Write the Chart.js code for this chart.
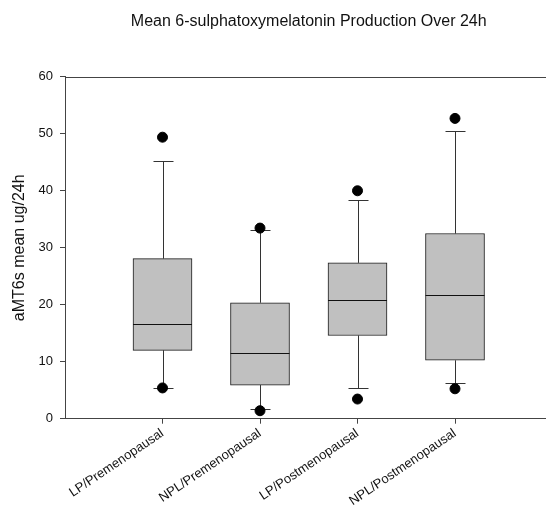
<!DOCTYPE html>
<html>
<head>
<meta charset="utf-8">
<script src="https://cdn.jsdelivr.net/npm/chart.js@4"></script>
<style>
  html, body { margin: 0; padding: 0; background: #fff; overflow: hidden; }
  canvas { display: block; }
</style>
</head>
<body>
<canvas id="boxChart" width="560" height="508"></canvas>
<script>
// group names and five-number summaries per group
const categories = ['LP/Premenopausal', 'NPL/Premenopausal', 'LP/Postmenopausal', 'NPL/Postmenopausal'];
const lowerWhisker = [5.4, 1.7, 5.3, 6.2];
const q1 = [12.0, 5.9, 14.6, 10.25];
const median = [16.7, 11.6, 20.8, 21.65];
const q3 = [28.1, 20.35, 27.35, 32.5];
const upperWhisker = [45.2, 33.05, 38.4, 50.45];
// outlying points (above, below)
const outliersHigh = [49.4, 33.45, 40.0, 52.7];
const outliersLow = [5.4, 1.4, 3.45, 5.25];
const yTicks = [0, 10, 20, 30, 40, 50, 60];

const positions = categories.map((c, i) => i + 1);
const font = "'Liberation Sans', Arial, sans-serif";

// whiskers, caps, medians and the top frame line
const boxExtras = {
    id: 'boxExtras',
    beforeDatasetsDraw(chart) {
        const { ctx, chartArea, scales: { x, y } } = chart;
        ctx.save();
        ctx.strokeStyle = '#444';
        ctx.lineWidth = 1;
        ctx.beginPath();
        ctx.moveTo(chartArea.left, Math.round(chartArea.top) + 0.5);
        ctx.lineTo(chartArea.right, Math.round(chartArea.top) + 0.5);
        ctx.stroke();

        ctx.strokeStyle = '#333';
        positions.forEach((p, i) => {
            const px = Math.round(x.getPixelForValue(p)) + 0.5;
            const yLo = Math.round(y.getPixelForValue(lowerWhisker[i])) + 0.5;
            const yHi = Math.round(y.getPixelForValue(upperWhisker[i])) + 0.5;
            ctx.beginPath();
            ctx.moveTo(px, y.getPixelForValue(q3[i]));
            ctx.lineTo(px, yHi);
            ctx.moveTo(px - 10, yHi);
            ctx.lineTo(px + 10, yHi);
            ctx.moveTo(px, y.getPixelForValue(q1[i]));
            ctx.lineTo(px, yLo);
            ctx.moveTo(px - 10, yLo);
            ctx.lineTo(px + 10, yLo);
            ctx.stroke();
        });
        ctx.restore();
    },
    afterDatasetsDraw(chart) {
        const { ctx, scales: { y } } = chart;
        const meta = chart.getDatasetMeta(0);
        ctx.save();
        ctx.strokeStyle = '#111';
        ctx.lineWidth = 1;
        meta.data.forEach((bar, i) => {
            const half = bar.width / 2;
            const my = Math.round(y.getPixelForValue(median[i])) + 0.5;
            ctx.beginPath();
            ctx.moveTo(bar.x - half, my);
            ctx.lineTo(bar.x + half, my);
            ctx.stroke();
        });
        ctx.restore();
    }
};

const ctx = document.getElementById('boxChart').getContext('2d');
const boxChart = new Chart(ctx, {
    type: 'bar',
    data: {
        datasets: [{
            label: 'IQR',
            data: positions.map((p, i) => ({ x: p, y: [q1[i], q3[i]] })),
            backgroundColor: '#c0c0c0',
            borderColor: '#1a1a1a',
            borderWidth: 1,
            borderSkipped: false,
            barThickness: 59,
            order: 2
        }, {
            type: 'scatter',
            label: 'Outliers',
            data: positions.flatMap((p, i) => [{ x: p, y: outliersHigh[i] }, { x: p, y: outliersLow[i] }]),
            backgroundColor: '#000',
            borderColor: '#000',
            pointRadius: 5,
            pointHoverRadius: 5,
            order: 1
        }]
    },
    options: {
        responsive: false,
        animation: false,
        events: [],
        layout: { padding: { left: 0, right: 7.5, top: 0, bottom: 0 } },
        plugins: {
            legend: { display: false },
            tooltip: { enabled: false },
            title: {
                display: true,
                fullSize: false,
                text: 'Mean 6-sulphatoxymelatonin Production Over 24h',
                color: '#111',
                font: { family: font, size: 16, weight: 'normal' },
                padding: { top: 12.4, bottom: 45.2 }
            }
        },
        scales: {
            x: {
                type: 'linear',
                min: 0,
                max: 5,
                offset: false,
                afterBuildTicks(scale) {
                    scale.ticks = positions.map(v => ({ value: v }));
                },
                afterFit(scale) {
                    scale.height = 89.3;
                },
                ticks: {
                    autoSkip: false,
                    minRotation: 34,
                    maxRotation: 34,
                    padding: 2,
                    color: '#111',
                    font: { family: font, size: 13 },
                    callback: (v) => categories[v - 1] || ''
                },
                grid: { offset: false, drawOnChartArea: false, drawTicks: true, tickLength: 5, color: '#444' },
                border: { display: true, color: '#444', width: 1 }
            },
            y: {
                min: 0,
                max: 60,
                afterBuildTicks(scale) {
                    scale.ticks = yTicks.map(v => ({ value: v }));
                },
                afterFit(scale) {
                    scale.width = 65;
                },
                ticks: {
                    padding: 7,
                    color: '#111',
                    font: { family: font, size: 13 }
                },
                title: {
                    display: true,
                    text: 'aMT6s mean ug/24h',
                    color: '#111',
                    font: { family: font, size: 16 },
                    padding: { top: 9.9, bottom: 0 }
                },
                grid: { drawOnChartArea: false, drawTicks: true, tickLength: 5, color: '#444' },
                border: { display: true, color: '#444', width: 1 }
            }
        }
    },
    plugins: [boxExtras]
});
</script>
</body>
</html>
